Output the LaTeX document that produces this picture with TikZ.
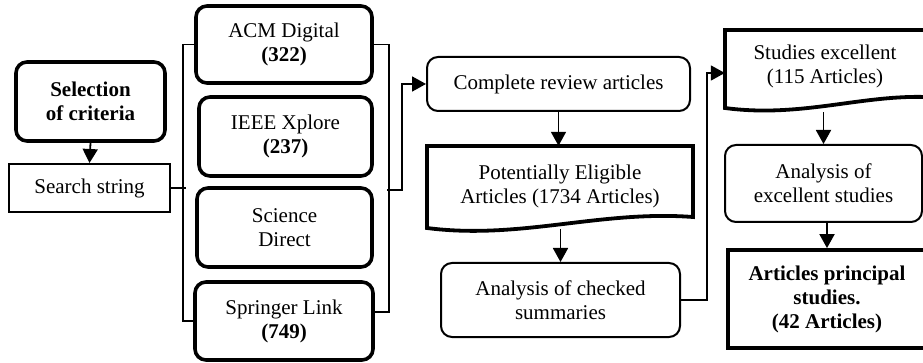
\documentclass[tikz,border=0pt]{standalone}
\usepackage{fontspec}
\setmainfont{Liberation Serif}
\usetikzlibrary{arrows.meta}
\begin{document}
\begin{tikzpicture}[x=1pt,y=-1pt,
  every node/.style={font=\fontsize{21}{24}\selectfont, align=center, inner sep=0pt},
  thickbox/.style={draw, line width=3.6pt, rounded corners=11pt},
  thinbox/.style={draw, line width=2pt, rounded corners=11pt},
  sqthin/.style={draw, line width=2pt},
  sqthick/.style={draw, line width=3.8pt},
  docline/.style={line width=3.8pt, line join=miter},
  conn/.style={line width=1.8pt, -{Triangle[width=15pt,length=14pt]}},
  brk/.style={line width=1.5pt}]
\clip (0,0) rectangle (923,363);
\fill[white] (0,0) rectangle (923,363);
% left column
\node[thickbox, minimum width=149pt, minimum height=79pt] (sel) at (90.5,101.5) {\textbf{Selection}\\\textbf{of criteria}};
\node[sqthin, minimum width=161pt, minimum height=48pt] (ss) at (89.5,188) {Search string};
% databases
\node[thickbox, minimum width=176pt, minimum height=77pt] (acm) at (284,44.5) {ACM Digital\\\textbf{(322)}};
\node[thickbox, minimum width=173pt, minimum height=79pt] (ieee) at (285.5,136.5) {IEEE Xplore\\\textbf{(237)}};
\node[thickbox, minimum width=175pt, minimum height=79pt] (sd) at (284.5,227.5) {Science\\Direct};
\node[thickbox, minimum width=178pt, minimum height=78pt] (spr) at (284,321) {Springer Link\\\textbf{(749)}};
% middle column
\node[thinbox, minimum width=263pt, minimum height=54pt] (cr) at (558.5,84) {Complete review articles};
\node[minimum width=266pt, minimum height=83pt] (pe) at (560,187.5) {};
\draw[docline] (427,146) -- (693,146) -- (693,217) .. controls (600,210) and (520,240) .. (427,228) -- cycle;
\node (pet) at (560,186) {Potentially Eligible\\Articles (1734 Articles)};
\node[thinbox, minimum width=239pt, minimum height=74pt] (ac) at (560.5,300) {Analysis of checked\\summaries};
% right column
\node[minimum width=201pt, minimum height=82pt] (se) at (825.5,71) {};
\draw[docline] (725,30) -- (926,30) -- (926,97) .. controls (860,95) and (800,118) .. (725,108) -- cycle;
\node (set) at (825,66) {Studies excellent\\(115 Articles)};
\node[thinbox, minimum width=197pt, minimum height=77pt] (ae) at (823.5,183.5) {Analysis of\\excellent studies};
\node[sqthick, minimum width=198pt, minimum height=98pt] (ap) at (827,299) {\textbf{Articles principal}\\\textbf{studies.}\\\textbf{(42 Articles)}};
% brackets
\draw[brk] (acm.west) -- ++(-11,0) |- (spr.west);
\draw[brk] (ss.east) -- ++(15,0);
\draw[brk] (acm.east) -- ++(15,0) |- ([yshift=9pt]spr.east);
\coordinate (rb) at (387,190);
% connectors
\draw[conn] (sel.south) -- (ss.north);
\draw[conn] (rb) -- (402,190) |- (cr.west);
\draw[conn] (cr.south) -- (cr.south |- pe.north);
\draw[conn] (ac.north |- pe.south) -- (ac.north);
\draw[conn] (ac.east) -- ++(26,0) |- ([yshift=-2pt]se.west);
\draw[conn] (ae.north |- se.south) -- (ae.north);
\draw[conn] (ap.north |- ae.south) -- (ap.north);
\end{tikzpicture}
\end{document}
